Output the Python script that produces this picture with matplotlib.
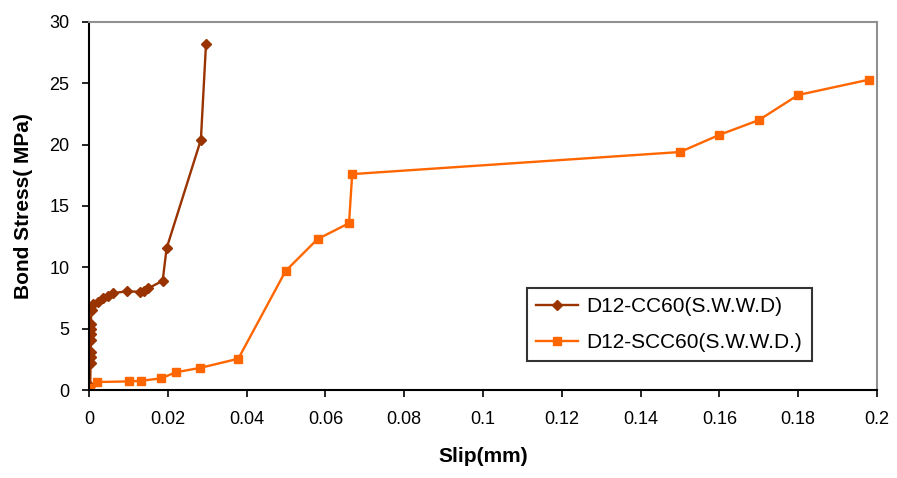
import matplotlib
matplotlib.use('Agg')
import matplotlib.pyplot as plt

# D12-CC60 (S.W.W.D)
cc_slip = [0.0, 0.0003, 0.0004, 0.0004, 0.0005, 0.0004, 0.0004, 0.0004, 0.0004, 0.0007,
           0.0011, 0.0024, 0.0035, 0.0048, 0.0062, 0.0097, 0.0130, 0.0140, 0.0151,
           0.0187, 0.0197, 0.0284, 0.0297]
cc_stress = [0.0, 0.3, 2.2, 2.7, 3.1, 4.1, 4.6, 5.0, 5.4, 6.5,
             7.0, 7.2, 7.5, 7.7, 7.9, 8.05, 8.0, 8.1, 8.3,
             8.9, 11.55, 20.4, 28.2]

# D12-SCC60 (S.W.W.D.)
scc_slip = [0.0, 0.0003, 0.002, 0.0102, 0.0132, 0.0183, 0.0221, 0.0282, 0.0379,
            0.0499, 0.0580, 0.0660, 0.0668, 0.150, 0.160, 0.170, 0.180, 0.198]
scc_stress = [0.0, 0.15, 0.65, 0.7, 0.75, 0.95, 1.45, 1.8, 2.55,
              9.7, 12.3, 13.6, 17.6, 19.4, 20.8, 22.0, 24.05, 25.3]

x_ticks = [0, 0.02, 0.04, 0.06, 0.08, 0.1, 0.12, 0.14, 0.16, 0.18, 0.2]
x_tick_labels = ['0', '0.02', '0.04', '0.06', '0.08', '0.1', '0.12', '0.14', '0.16', '0.18', '0.2']
y_ticks = [0, 5, 10, 15, 20, 25, 30]

plt.rcParams['font.family'] = ['Liberation Sans', 'DejaVu Sans']

fig = plt.figure(figsize=(8.97, 4.78), dpi=100)
ax = fig.add_axes([0.0992, 0.1841, 0.8785, 0.7699])

ax.plot(cc_slip, cc_stress, color='#993300', lw=1.7, marker='D', markersize=5,
        label='D12-CC60(S.W.W.D)')
ax.plot(scc_slip, scc_stress, color='#FF6600', lw=1.7, marker='s', markersize=6,
        label='D12-SCC60(S.W.W.D.)')

ax.set_xlim(0, 0.2)
ax.set_ylim(0, 30)
ax.set_xticks(x_ticks)
ax.set_xticklabels(x_tick_labels)
ax.set_yticks(y_ticks)
ax.tick_params(direction='out', length=5, width=1.2, labelsize=13, color='black')
ax.tick_params(axis='x', pad=10)
ax.tick_params(axis='y', pad=9)

for side in ['left', 'bottom']:
    ax.spines[side].set_color('black')
    ax.spines[side].set_linewidth(1.5)
for side in ['top', 'right']:
    ax.spines[side].set_color('#909090')
    ax.spines[side].set_linewidth(1.5)

ax.set_xlabel('Slip(mm)', fontsize=15, fontweight='bold', labelpad=14)
ax.set_ylabel('Bond Stress( MPa)', fontsize=15, fontweight='bold', labelpad=12)

leg = ax.legend(loc='lower left', bbox_to_anchor=(0.556, 0.078), fontsize=15,
                frameon=True, fancybox=False, handlelength=2.0, borderpad=0.45,
                labelspacing=0.8, handletextpad=0.4, borderaxespad=0)
leg.get_frame().set_edgecolor('black')
leg.get_frame().set_linewidth(1.5)

fig.savefig('out.png', dpi=100, facecolor='white')
